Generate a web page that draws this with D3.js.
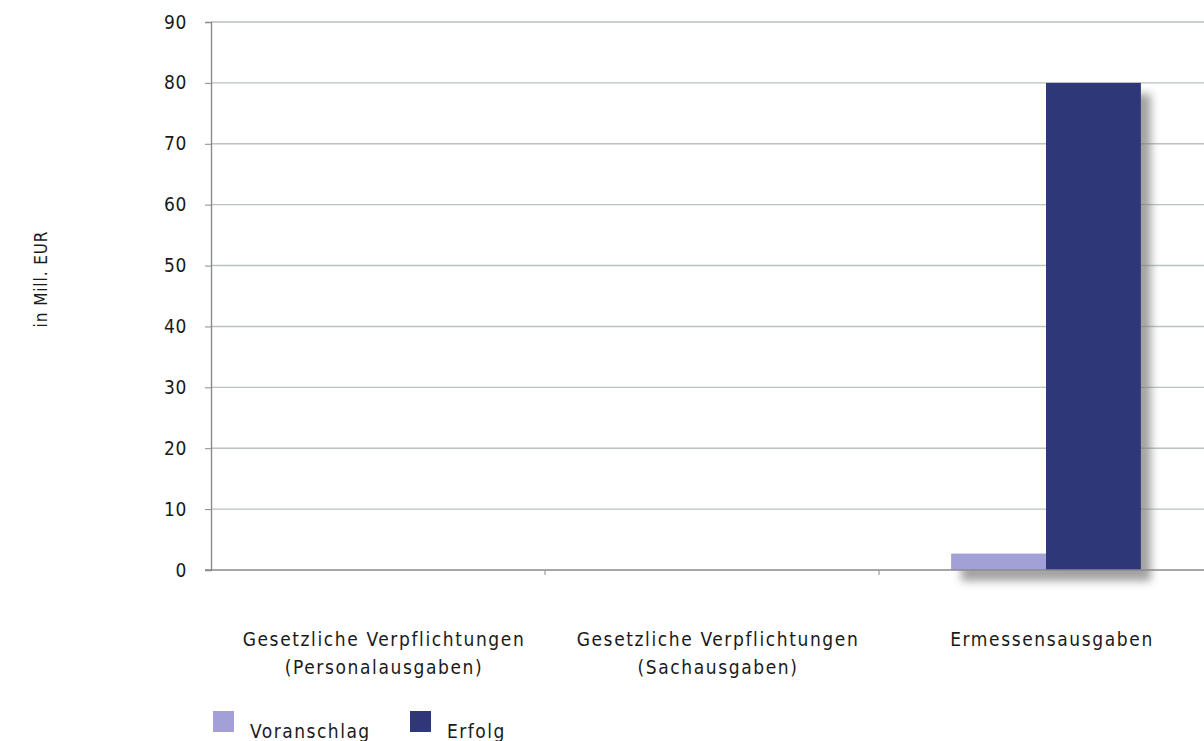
<!DOCTYPE html>
<html><head><meta charset="utf-8">
<script src="https://cdn.jsdelivr.net/npm/d3@7"></script>
<style>
html,body{margin:0;padding:0;background:#fff;}
text{font-family:"DejaVu Sans Condensed","DejaVu Sans",sans-serif;fill:#1a1a1a;}
</style></head>
<body>
<svg id="chart" width="1204" height="741"></svg>
<script>
const categories = [
  ["Gesetzliche Verpflichtungen", "(Personalausgaben)"],
  ["Gesetzliche Verpflichtungen", "(Sachausgaben)"],
  ["Ermessensausgaben"]
];
const seriesNames = ["Voranschlag", "Erfolg"];
const voranschlag = [0, 0, 2.7];
const erfolg = [0, 0, 80];
const yTicks = [0, 10, 20, 30, 40, 50, 60, 70, 80, 90];
const colors = ["#a3a0d8", "#2f3778"];

const svg = d3.select("#chart");
const plotLeft = 211, plotRight = 1213, plotTop = 22, plotBottom = 570;

const x = d3.scaleBand().domain(d3.range(categories.length)).range([plotLeft, plotRight]);
const xs = d3.scaleBand().domain([0, 1]).range([0, x.bandwidth()]).paddingOuter(0.76);
const y = d3.scaleLinear().domain([0, 90]).range([plotBottom, plotTop]);

const defs = svg.append("defs");
const f = defs.append("filter").attr("id", "shadow")
  .attr("x", "-20%").attr("y", "-20%").attr("width", "160%").attr("height", "160%");
f.append("feDropShadow").attr("dx", 10).attr("dy", 11).attr("stdDeviation", 4)
  .attr("flood-color", "#7a7a7a").attr("flood-opacity", 0.7);

// gridlines
svg.append("g").selectAll("line").data(yTicks.filter(d => d > 0)).join("line")
  .attr("x1", plotLeft).attr("x2", 1204)
  .attr("y1", d => y(d)).attr("y2", d => y(d))
  .attr("stroke", "#b9c2bb").attr("stroke-width", 1.4);

// bars
const values = [voranschlag, erfolg];
const bars = svg.append("g").attr("filter", "url(#shadow)");
categories.forEach((c, i) => {
  values.forEach((vals, s) => {
    if (vals[i] <= 0) return;
    bars.append("rect")
      .attr("x", x(i) + xs(s))
      .attr("width", xs.bandwidth())
      .attr("y", y(vals[i]))
      .attr("height", y(0) - y(vals[i]))
      .attr("fill", colors[s]);
  });
});

// y axis
const yAxis = d3.axisLeft(y).tickValues(yTicks).tickSize(6).tickPadding(18);
const gy = svg.append("g").attr("transform", `translate(${plotLeft},0)`).call(yAxis);
gy.select(".domain").attr("stroke", "#8a8a8a").attr("stroke-width", 1.4);
gy.selectAll(".tick line").attr("stroke", "#8a8a8a");
gy.selectAll(".tick text").style("font-size", "19px").style("letter-spacing", "0.6px")
  .attr("fill", "#1a1a1a");

// x axis baseline
svg.append("line").attr("x1", plotLeft - 6).attr("x2", 1204).attr("y1", plotBottom).attr("y2", plotBottom)
  .attr("stroke", "#8a8a8a").attr("stroke-width", 1.4);
svg.append("g").selectAll("line").data(d3.range(1, categories.length)).join("line")
  .attr("x1", d => x(d)).attr("x2", d => x(d))
  .attr("y1", plotBottom).attr("y2", plotBottom + 5).attr("stroke", "#8a8a8a");

// category labels
const lab = svg.append("g");
categories.forEach((c, i) => {
  const cx = x(i) + x.bandwidth() / 2 + 6;
  const t = lab.append("text").attr("text-anchor", "middle")
    .attr("x", cx).attr("y", 646).style("font-size", "19px").style("letter-spacing", "1.6px");
  c.forEach((line, k) => t.append("tspan").attr("x", cx)
    .attr("dy", k === 0 ? 0 : 28).text(line));
});

// y axis title
svg.append("text").attr("transform", "translate(47,279) rotate(-90)")
  .attr("text-anchor", "middle").style("font-size", "17px").style("letter-spacing", "0.9px")
  .text("in Mill. EUR");

// legend
const legX = [213, 410];
seriesNames.forEach((n, s) => {
  svg.append("rect").attr("x", legX[s]).attr("y", 711).attr("width", 21).attr("height", 21)
    .attr("fill", colors[s]);
  svg.append("text").attr("x", legX[s] + 37).attr("y", 738).style("font-size", "19px")
    .style("letter-spacing", "1.5px").text(n);
});
</script>
</body></html>
